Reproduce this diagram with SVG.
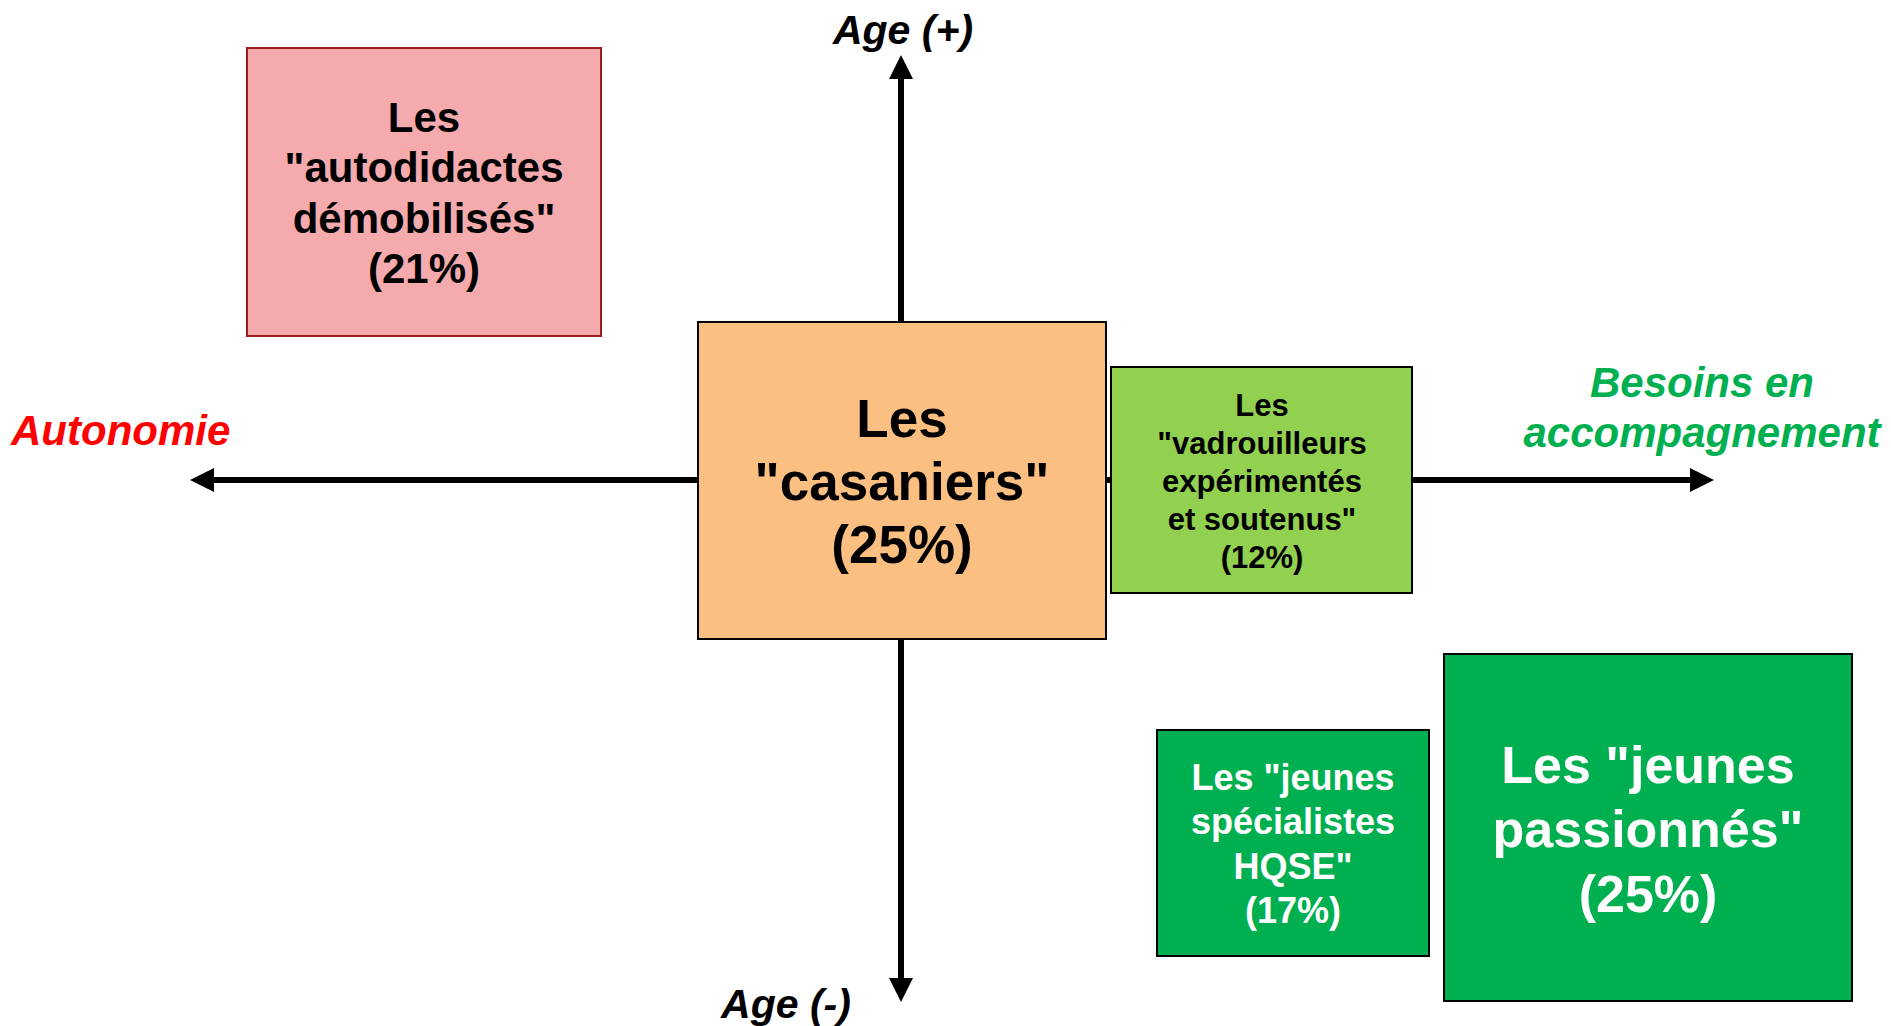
<svg xmlns="http://www.w3.org/2000/svg" width="1891" height="1026" viewBox="0 0 1891 1026">
  <style>
    .t { font-family: "Liberation Sans", Arial, sans-serif; font-weight: bold; text-anchor: middle; }
    .ax { font-family: "Liberation Sans", Arial, sans-serif; font-weight: bold; font-style: italic; }
    .box { stroke: #000; stroke-width: 2; }
    .axis { stroke: #000; stroke-width: 6; fill: none; }
  </style>
  <defs>
    <marker id="arr" markerUnits="userSpaceOnUse" markerWidth="24" markerHeight="24" viewBox="0 0 24 24" refX="1" refY="12" orient="auto-start-reverse">
      <path d="M0,0 L24,12 L0,24 z" fill="#000"/>
    </marker>
  </defs>
  <rect width="1891" height="1026" fill="#fff"/>

  <g id="connectors">
    <line class="axis" x1="213" y1="480" x2="1691" y2="480" marker-start="url(#arr)" marker-end="url(#arr)"/>
    <line class="axis" x1="901" y1="78" x2="901" y2="979" marker-start="url(#arr)" marker-end="url(#arr)"/>
  </g>

  <g id="axis-labels">
    <text class="ax" x="903" y="44" font-size="41" text-anchor="middle" fill="#000">Age (+)</text>
    <text class="ax" x="786" y="1018" font-size="41" text-anchor="middle" fill="#000">Age (-)</text>
    <text class="ax" x="11" y="445" font-size="42" fill="#FF0000">Autonomie</text>
    <text class="ax" x="1702" y="397" font-size="42" text-anchor="middle" fill="#00B050">Besoins en</text>
    <text class="ax" x="1702" y="447" font-size="42" text-anchor="middle" fill="#00B050">accompagnement</text>
  </g>

  <g id="autodidactes">
    <rect x="247" y="48" width="354" height="288" fill="#F5AAAD" stroke="#9B1C1C" stroke-width="2"/>
    <text class="t" font-size="42" x="424" y="132">Les</text>
    <text class="t" font-size="42" x="424" y="182">"autodidactes</text>
    <text class="t" font-size="42" x="424" y="233">démobilisés"</text>
    <text class="t" font-size="42" x="424" y="283">(21%)</text>
  </g>

  <g id="casaniers">
    <rect class="box" x="698" y="322" width="408" height="317" fill="#FCBF82"/>
    <text class="t" font-size="53" x="902" y="437">Les</text>
    <text class="t" font-size="53" x="902" y="500">"casaniers"</text>
    <text class="t" font-size="53" x="902" y="563">(25%)</text>
  </g>

  <g id="vadrouilleurs">
    <rect class="box" x="1111" y="367" width="301" height="226" fill="#92D050"/>
    <text class="t" font-size="31" x="1262" y="416">Les</text>
    <text class="t" font-size="31" x="1262" y="454">"vadrouilleurs</text>
    <text class="t" font-size="31" x="1262" y="492">expérimentés</text>
    <text class="t" font-size="31" x="1262" y="530">et soutenus"</text>
    <text class="t" font-size="31" x="1262" y="568">(12%)</text>
  </g>

  <g id="hqse">
    <rect class="box" x="1157" y="730" width="272" height="226" fill="#00B050"/>
    <text class="t" font-size="36" fill="#fff" x="1293" y="790">Les "jeunes</text>
    <text class="t" font-size="36" fill="#fff" x="1293" y="834">spécialistes</text>
    <text class="t" font-size="36" fill="#fff" x="1293" y="879">HQSE"</text>
    <text class="t" font-size="36" fill="#fff" x="1293" y="923">(17%)</text>
  </g>

  <g id="passionnes">
    <rect class="box" x="1444" y="654" width="408" height="347" fill="#00B050"/>
    <text class="t" font-size="52" fill="#fff" x="1648" y="783">Les "jeunes</text>
    <text class="t" font-size="52" fill="#fff" x="1648" y="847">passionnés"</text>
    <text class="t" font-size="52" fill="#fff" x="1648" y="912">(25%)</text>
  </g>
</svg>
